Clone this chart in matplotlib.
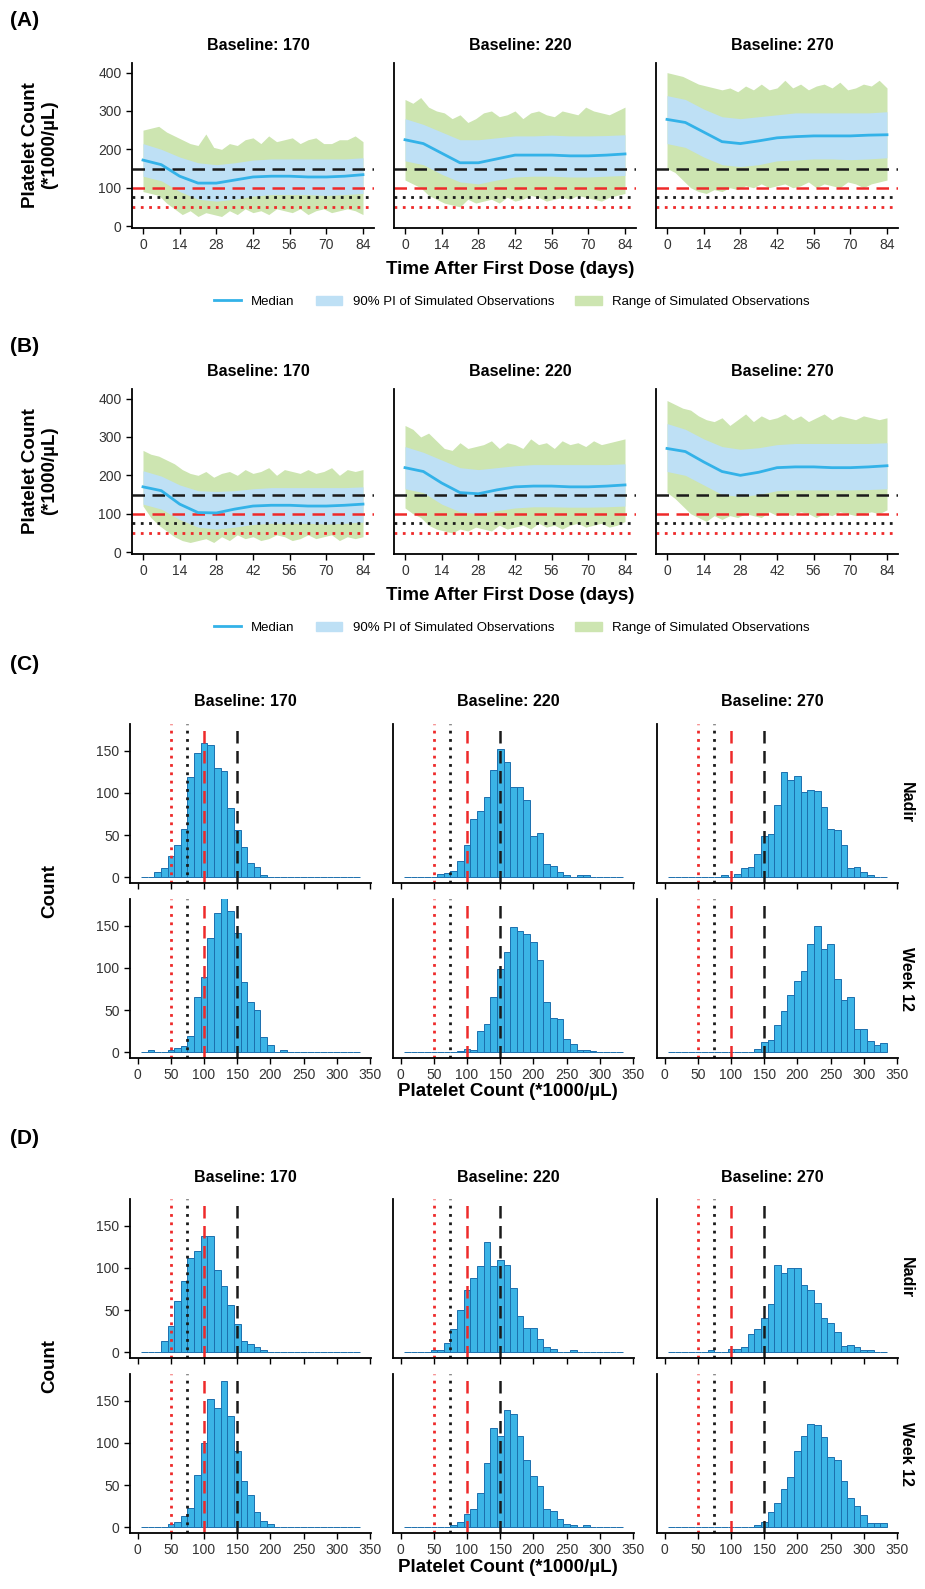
import numpy as np
import matplotlib as mpl
mpl.use('Agg')
import matplotlib.pyplot as plt
from matplotlib.lines import Line2D
from matplotlib.patches import Patch

plt.rcParams['font.family'] = ['Liberation Sans', 'DejaVu Sans']

W, H = 925, 1589

baselines = ["170", "220", "270"]

# time series (days)
t_week = [0, 7, 14, 21, 28, 35, 42, 49, 56, 63, 70, 77, 84]
t_rng = list(range(0, 85, 3))

# panel A
A170_med = [172, 160, 130, 112, 112, 120, 128, 130, 130, 128, 128, 130, 134]
A170_pi_hi = [215, 200, 180, 165, 160, 165, 172, 175, 175, 175, 175, 175, 178]
A170_pi_lo = [130, 118, 90, 70, 65, 70, 78, 82, 82, 82, 80, 82, 85]
A170_r_hi = [250, 255, 260, 245, 235, 225, 215, 210, 240, 205, 200, 215, 210, 225, 230,
             215, 235, 220, 225, 230, 215, 225, 230, 215, 215, 225, 225, 235, 220]
A170_r_lo = [90, 85, 80, 60, 45, 30, 40, 25, 35, 30, 25, 40, 30, 45, 35,
             40, 30, 45, 40, 35, 45, 30, 40, 45, 35, 40, 45, 40, 30]

A220_med = [225, 215, 190, 165, 165, 175, 185, 185, 185, 183, 183, 185, 188]
A220_pi_hi = [280, 265, 245, 225, 225, 230, 235, 235, 237, 235, 235, 236, 238]
A220_pi_lo = [170, 160, 135, 115, 110, 120, 128, 130, 130, 128, 128, 130, 132]
A220_r_hi = [330, 320, 335, 310, 300, 295, 280, 290, 270, 280, 295, 300, 285, 290, 300,
             280, 295, 300, 290, 285, 300, 295, 290, 310, 300, 295, 290, 300, 310]
A220_r_lo = [120, 110, 100, 80, 70, 60, 55, 50, 70, 60, 65, 70, 60, 75, 65,
             70, 80, 75, 65, 70, 75, 70, 80, 75, 70, 65, 75, 80, 85]

A270_med = [278, 270, 245, 220, 215, 222, 230, 233, 235, 235, 235, 237, 238]
A270_pi_hi = [340, 330, 305, 285, 280, 285, 290, 295, 295, 295, 295, 295, 298]
A270_pi_lo = [215, 205, 180, 160, 155, 160, 170, 172, 175, 175, 173, 175, 178]
A270_r_hi = [400, 395, 390, 380, 370, 365, 360, 355, 360, 350, 365, 355, 370, 355, 360,
             380, 360, 370, 355, 365, 370, 360, 375, 355, 360, 370, 365, 380, 360]
A270_r_lo = [150, 140, 120, 100, 90, 85, 95, 90, 100, 95, 105, 100, 110, 100, 105,
             110, 100, 105, 115, 100, 110, 105, 100, 115, 110, 100, 110, 115, 120]

# panel B
B170_med = [170, 160, 125, 103, 102, 112, 120, 122, 122, 120, 120, 122, 125]
B170_pi_hi = [212, 198, 175, 160, 158, 160, 165, 168, 168, 168, 168, 168, 170]
B170_pi_lo = [125, 112, 85, 65, 60, 65, 72, 75, 75, 75, 73, 75, 78]
B170_r_hi = [265, 255, 250, 240, 230, 215, 205, 200, 210, 195, 205, 210, 200, 215, 205,
             210, 220, 200, 215, 210, 205, 215, 205, 210, 220, 200, 215, 210, 215]
B170_r_lo = [120, 90, 70, 55, 40, 30, 25, 30, 35, 25, 40, 30, 45, 35, 40,
             30, 35, 45, 40, 30, 35, 45, 35, 40, 45, 30, 40, 35, 40]

B220_med = [220, 210, 180, 155, 152, 162, 170, 172, 172, 170, 170, 172, 175]
B220_pi_hi = [275, 260, 240, 220, 215, 220, 225, 228, 228, 228, 228, 228, 230]
B220_pi_lo = [165, 155, 125, 105, 100, 108, 115, 118, 118, 117, 117, 118, 120]
B220_r_hi = [330, 320, 300, 310, 290, 270, 265, 285, 270, 275, 280, 290, 270, 285, 280,
             270, 295, 280, 285, 270, 290, 280, 285, 275, 290, 280, 285, 290, 295]
B220_r_lo = [115, 100, 90, 70, 60, 55, 50, 60, 55, 65, 60, 55, 70, 60, 65,
             70, 60, 75, 65, 70, 60, 70, 75, 65, 70, 75, 65, 70, 80]

B270_med = [270, 262, 235, 210, 200, 208, 220, 222, 222, 220, 220, 222, 225]
B270_pi_hi = [335, 320, 295, 275, 268, 272, 280, 283, 283, 283, 283, 283, 285]
B270_pi_lo = [210, 200, 175, 150, 145, 150, 160, 162, 162, 162, 162, 163, 165]
B270_r_hi = [395, 385, 375, 370, 355, 345, 340, 350, 330, 345, 360, 340, 355, 345, 350,
             360, 345, 355, 340, 350, 360, 345, 355, 350, 345, 355, 350, 345, 350]
B270_r_lo = [155, 140, 120, 100, 90, 80, 95, 85, 95, 90, 100, 95, 90, 105, 95,
             100, 95, 105, 100, 90, 100, 95, 105, 100, 95, 100, 105, 100, 110]

# histogram bins (centres, width 10)
bin_centres = list(range(10, 340, 10))
C_n170 = [0,0,6,11,25,38,57,119,148,159,157,130,126,82,56,36,17,12,2,0,0,0,0,0,0,0,0,0,0,0,0,0,0]
C_w170 = [0,3,0,0,3,5,7,19,65,89,136,165,190,168,141,83,60,50,18,9,0,3,0,0,0,0,0,0,0,0,0,0,0]
C_n220 = [0,0,0,0,0,4,5,7,19,38,69,79,95,127,152,137,107,107,92,49,52,16,13,6,3,0,3,3,0,0,0,0,0]
C_w220 = [0,0,0,0,0,0,0,0,1,4,3,25,33,65,99,119,149,144,140,131,109,60,41,39,15,10,2,2,1,0,0,0,0]
C_n270 = [0,0,0,0,0,0,0,0,2,0,4,11,12,27,49,51,86,125,115,120,101,103,102,83,57,56,38,11,12,6,2,0,0]
C_w270 = [0,0,0,0,0,0,0,0,0,0,0,0,0,4,12,14,32,49,68,85,97,129,150,122,129,87,62,65,28,28,13,9,11]
D_n170 = [0,0,0,13,31,61,84,112,120,138,138,98,78,56,33,13,10,6,2,0,0,0,0,0,0,0,0,0,0,0,0,0,0]
D_w170 = [0,0,0,0,4,6,13,23,62,100,152,142,174,132,90,55,38,18,7,4,0,0,0,0,0,0,0,0,0,0,0,0,0]
D_n220 = [0,0,0,0,3,3,11,27,50,74,88,102,131,102,110,104,76,43,29,29,15,6,4,0,0,2,0,0,0,0,0,0,0]
D_w220 = [0,0,0,0,0,0,0,2,6,15,22,41,76,118,108,139,135,108,80,61,49,22,19,10,4,2,0,2,0,0,0,0,0]
D_n270 = [0,0,0,0,0,0,2,0,0,4,4,6,21,28,40,57,103,94,100,100,80,74,58,41,35,24,7,9,6,2,2,0,0]
D_w270 = [0,0,0,0,0,0,0,0,0,0,0,0,0,2,6,18,29,45,60,90,108,123,121,107,83,80,55,35,25,14,5,5,5]

MED_C = '#33B2E8'
PI_C = '#BEE0F5'
RNG_C = '#CDE5B1'
HIST_C = '#3BB4E6'
HIST_E = '#1C6FAE'
RED = '#EE2A2A'
TICK_C = '#333333'

fig = plt.figure(figsize=(W / 100, H / 100), dpi=100)


def ax_at(left, top, width, height):
    return fig.add_axes([left / W, 1 - (top + height) / H, width / W, height / H])


def ftext(x, y, s, **kw):
    fig.text(x / W, 1 - y / H, s, **kw)


def style(ax, first):
    for s in ['top', 'right']:
        ax.spines[s].set_visible(False)
    for s in ['left', 'bottom']:
        ax.spines[s].set_linewidth(1.3)
    ax.tick_params(labelsize=10, colors='black', labelcolor=TICK_C, width=1, length=4)
    if not first:
        ax.tick_params(axis='y', left=False, labelleft=False)


def refs(fn):
    fn(150, color='#1a1a1a', ls=(0, (5, 3)), lw=1.8)
    fn(100, color=RED, ls=(0, (5, 3)), lw=1.8)
    fn(75, color='#1a1a1a', ls=(0, (1, 2)), lw=2)
    fn(50, color=RED, ls=(0, (1, 2)), lw=2)


def draw_time(ax, med, pi_lo, pi_hi, r_lo, r_hi, first):
    ax.fill_between(t_rng, r_lo, r_hi, color=RNG_C, lw=0)
    ax.fill_between(t_week, pi_lo, pi_hi, color=PI_C, lw=0)
    refs(ax.axhline)
    ax.plot(t_week, med, color=MED_C, lw=2)
    ax.set_xlim(-4.2, 88.2)
    ax.set_ylim(-5, 425)
    ax.set_xticks([0, 14, 28, 42, 56, 70, 84])
    ax.set_yticks([0, 100, 200, 300, 400])
    style(ax, first)


def draw_hist(ax, counts, first):
    ax.bar(bin_centres, counts, width=10, color=HIST_C, edgecolor=HIST_E, lw=0.7)
    refs(ax.axvline)
    ax.set_xlim(-11.5, 351.5)
    ax.set_ylim(-7, 182)
    ax.set_xticks(range(0, 351, 50))
    ax.set_yticks([0, 50, 100, 150])
    style(ax, first)


col_left = [132, 394, 656]
col_w = 242

time_panels = [
    ("(A)", 0, [(A170_med, A170_pi_lo, A170_pi_hi, A170_r_lo, A170_r_hi),
                (A220_med, A220_pi_lo, A220_pi_hi, A220_r_lo, A220_r_hi),
                (A270_med, A270_pi_lo, A270_pi_hi, A270_r_lo, A270_r_hi)]),
    ("(B)", 326, [(B170_med, B170_pi_lo, B170_pi_hi, B170_r_lo, B170_r_hi),
                  (B220_med, B220_pi_lo, B220_pi_hi, B220_r_lo, B220_r_hi),
                  (B270_med, B270_pi_lo, B270_pi_hi, B270_r_lo, B270_r_hi)]),
]

for label, dy, series in time_panels:
    top = 63 + dy
    for i, s in enumerate(series):
        ax = ax_at(col_left[i], top, col_w, 165)
        draw_time(ax, *s, first=(i == 0))
        ftext(col_left[i] + col_w / 2 + 5, 46 + dy, "Baseline: " + baselines[i],
              ha='center', va='center', fontsize=11.5, fontweight='bold')
    ftext(10, 21 + dy, label, ha='left', va='center', fontsize=15, fontweight='bold')
    ftext(40, 145 + dy, "Platelet Count\n(*1000/\u00b5L)", ha='center', va='center',
          rotation=90, fontsize=13.5, fontweight='bold', linespacing=1.15)
    ftext(510, 269 + dy, "Time After First Dose (days)", ha='center', va='center',
          fontsize=13.5, fontweight='bold')
    handles = [Line2D([], [], color=MED_C, lw=2),
               Patch(color=PI_C), Patch(color=RNG_C)]
    fig.legend(handles, ["Median", "90% PI of Simulated Observations",
                         "Range of Simulated Observations"],
               loc='center', bbox_to_anchor=(512 / W, 1 - (302 + dy) / H), ncol=3,
               frameon=False, fontsize=9.5, handlelength=2, columnspacing=1.6)

hist_left = [130, 393, 657]
hist_w = 241

hist_panels = [
    ("(C)", 0, [C_n170, C_n220, C_n270], [C_w170, C_w220, C_w270]),
    ("(D)", 475, [D_n170, D_n220, D_n270], [D_w170, D_w220, D_w270]),
]

for label, dy, nadir, week12 in hist_panels:
    for i in range(3):
        ax1 = ax_at(hist_left[i], 724 + dy, hist_w, 159)
        draw_hist(ax1, nadir[i], first=(i == 0))
        ax1.tick_params(axis='x', labelbottom=False)
        ax2 = ax_at(hist_left[i], 899 + dy, hist_w, 159)
        draw_hist(ax2, week12[i], first=(i == 0))
        ftext(hist_left[i] + hist_w / 2 - 5, 702 + dy, "Baseline: " + baselines[i],
              ha='center', va='center', fontsize=11.5, fontweight='bold')
    ftext(10, 664 + dy, label, ha='left', va='center', fontsize=15, fontweight='bold')
    ftext(50, 891 + dy, "Count", ha='center', va='center', rotation=90,
          fontsize=13.5, fontweight='bold')
    ftext(906, 803 + dy, "Nadir", ha='center', va='center', rotation=-90,
          fontsize=11.5, fontweight='bold')
    ftext(906, 979 + dy, "Week 12", ha='center', va='center', rotation=-90,
          fontsize=11.5, fontweight='bold')
    ftext(508, 1092 + dy, "Platelet Count (*1000/\u00b5L)", ha='center', va='center',
          fontsize=13.5, fontweight='bold')

fig.savefig('out.png', dpi=100)
